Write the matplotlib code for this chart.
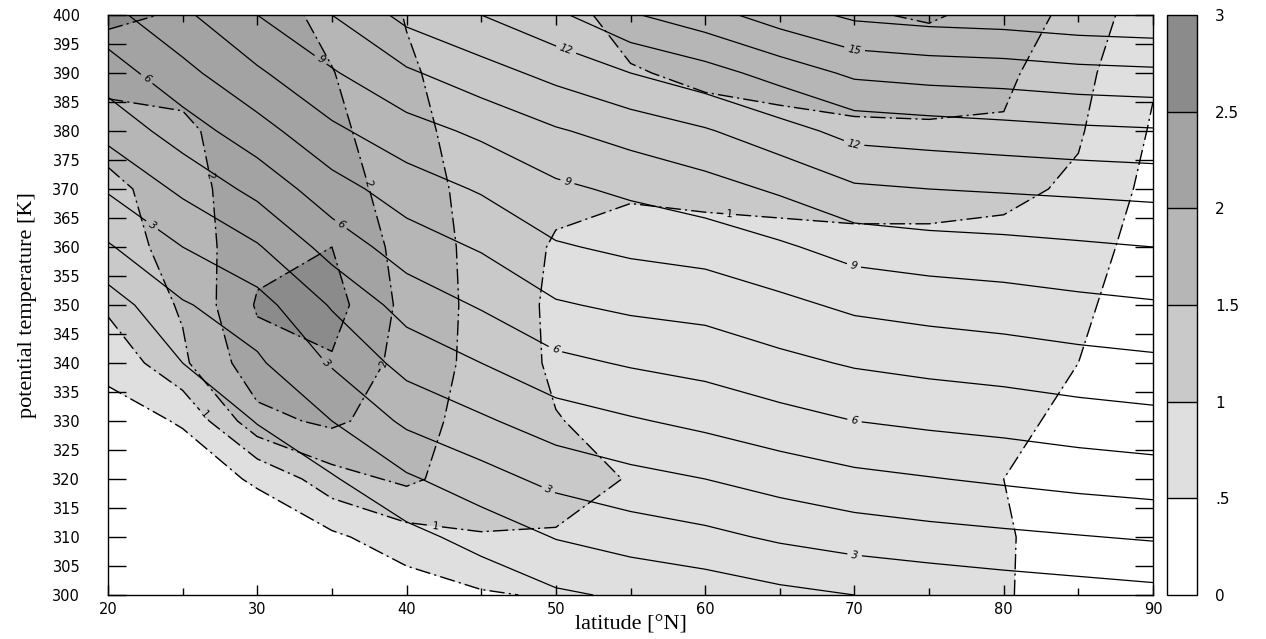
import numpy as np
import matplotlib
matplotlib.use("Agg")
import matplotlib.pyplot as plt
from matplotlib.ticker import MultipleLocator

# grid
lat = [20, 25, 30, 35, 40, 45, 50, 55, 60, 65, 70, 75, 80, 85, 90]
theta = [300, 310, 320, 330, 340, 350, 360, 370, 380, 390, 400]

# shaded field, one list per latitude, theta 300 -> 400
shade_by_lat = [
    [0.10, 0.20, 0.30, 0.35, 0.60, 1.10, 1.25, 1.35, 1.75, 2.20, 2.60],
    [0.10, 0.20, 0.30, 0.53, 1.42, 1.55, 1.70, 1.80, 1.92, 2.15, 2.45],
    [0.10, 0.25, 0.55, 1.85, 2.30, 2.55, 2.35, 2.30, 2.25, 2.25, 2.25],
    [0.15, 0.40, 1.30, 2.10, 2.45, 2.70, 2.50, 2.30, 2.15, 2.02, 1.85],
    [0.20, 0.80, 1.60, 1.70, 1.80, 1.85, 1.80, 1.70, 1.60, 1.55, 1.48],
    [0.45, 0.98, 1.20, 1.30, 1.35, 1.35, 1.35, 1.35, 1.35, 1.30, 1.30],
    [0.55, 0.97, 1.15, 1.02, 0.92, 0.90, 0.95, 1.12, 1.25, 1.35, 1.40],
    [0.60, 0.85, 0.98, 0.85, 0.80, 0.80, 0.85, 1.05, 1.30, 1.48, 1.60],
    [0.65, 0.75, 0.80, 0.80, 0.80, 0.80, 0.85, 1.10, 1.40, 1.55, 1.70],
    [0.70, 0.75, 0.80, 0.80, 0.80, 0.80, 0.85, 1.15, 1.42, 1.60, 1.85],
    [0.70, 0.75, 0.80, 0.80, 0.80, 0.85, 0.88, 1.18, 1.45, 1.65, 1.95],
    [0.70, 0.75, 0.80, 0.80, 0.80, 0.85, 0.88, 1.18, 1.45, 1.70, 2.05],
    [0.55, 0.55, 0.50, 0.60, 0.70, 0.75, 0.85, 1.12, 1.45, 1.60, 1.85],
    [0.20, 0.25, 0.30, 0.40, 0.50, 0.60, 0.75, 0.92, 1.05, 1.15, 1.30],
    [0.10, 0.12, 0.15, 0.18, 0.20, 0.20, 0.25, 0.35, 0.45, 0.55, 0.70],
]

# solid contour field, same layout
pv_by_lat = [
    [-0.6, -0.5, -0.4, -0.3, 0.0, 0.5, 1.9, 3.1, 4.3, 5.5, 6.7],
    [-0.5, -0.4, -0.3, 0.1, 1.0, 1.9, 3.0, 4.2, 5.5, 6.7, 7.8],
    [-0.4, -0.3, 0.2, 1.05, 1.85, 2.6, 3.9, 5.3, 6.6, 7.85, 9.0],
    [-0.4, 0.1, 0.9, 2.0, 3.1, 4.1, 5.4, 6.6, 7.8, 8.9, 10.0],
    [-0.3, 0.7, 1.85, 3.2, 4.35, 5.4, 6.5, 7.5, 8.6, 9.85, 11.3],
    [0.3, 1.35, 2.6, 3.85, 5.0, 6.1, 7.1, 8.1, 9.2, 10.6, 12.0],
    [0.85, 2.05, 3.3, 4.5, 5.75, 6.9, 7.9, 8.8, 9.9, 11.3, 12.8],
    [1.15, 2.45, 3.7, 4.9, 6.1, 7.2, 8.2, 9.2, 10.4, 12.0, 13.9],
    [1.4, 2.75, 4.0, 5.25, 6.35, 7.35, 8.4, 9.6, 10.9, 12.6, 14.6],
    [1.75, 3.15, 4.4, 5.65, 6.75, 7.75, 8.85, 10.15, 11.6, 13.4, 15.5],
    [2.0, 3.45, 4.75, 6.0, 7.1, 8.2, 9.4, 10.85, 12.35, 14.2, 16.2],
    [2.2, 3.65, 4.95, 6.2, 7.3, 8.4, 9.6, 11.0, 12.5, 14.4, 16.4],
    [2.4, 3.8, 5.15, 6.35, 7.45, 8.55, 9.7, 11.1, 12.65, 14.5, 16.5],
    [2.55, 3.95, 5.35, 6.55, 7.65, 8.75, 9.85, 11.2, 12.8, 14.7, 16.7],
    [2.7, 4.1, 5.5, 6.7, 7.8, 8.9, 10.0, 11.3, 12.9, 14.8, 16.8],
]

shade_levels = [0, 0.5, 1, 1.5, 2, 2.5, 3]
shade_labels = ["0", ".5", "1", "1.5", "2", "2.5", "3"]
shade_colors = ["#ffffff", "#dfdfdf", "#c9c9c9", "#b6b6b6", "#a3a3a3", "#8b8b8b"]
shade_labelled = [1, 2]
pv_levels = list(range(1, 18))
pv_labelled = [3, 6, 9, 12, 15]

S = np.array(shade_by_lat).T
P = np.array(pv_by_lat).T

W, H = 1266, 639
fig = plt.figure(figsize=(W / 100, H / 100), dpi=100)
ax = fig.add_axes([108 / W, 1 - 595 / H, (1153 - 108) / W, 580 / H])

cf = ax.contourf(lat, theta, S, levels=shade_levels, colors=shade_colors)

dashdot = (0, (11, 3, 1.5, 3))
cd_plain = ax.contour(lat, theta, S, levels=[0.5, 1.5, 2.5], colors="k", linewidths=1.0)
cd_lab = ax.contour(lat, theta, S, levels=shade_labelled, colors="k", linewidths=1.0)
cd_plain.set_linestyle(dashdot)
cd_lab.set_linestyle(dashdot)

pv_plain = [v for v in pv_levels if v not in pv_labelled]
cs_plain = ax.contour(lat, theta, P, levels=pv_plain, colors="k", linewidths=0.9,
                      linestyles="solid")
cs_lab = ax.contour(lat, theta, P, levels=pv_labelled, colors="k", linewidths=0.9,
                    linestyles="solid")

# labels on the solid lines
pv_lab = ax.clabel(cs_lab, fmt="%d", fontsize=7.5, inline=True, inline_spacing=4,
                   manual=[(23.3, 365), (34.3, 339), (49.4, 317.6), (70, 306.6),
                           (22.6, 389), (35.9, 365), (49.9, 342), (70, 330),
                           (34, 391.4), (50.9, 372.4), (70, 357),
                           (50.8, 394.8), (70, 378), (70, 394)])
for t in pv_lab:
    t.set_fontstyle("italic")

# labels on the dash-dot lines
sh_lab = ax.clabel(cd_lab, fmt="%g", fontsize=7.5, inline=True, inline_spacing=3,
                   manual=[(61.7, 367.6), (26.4, 331), (41.9, 310.9),
                           (37.1, 370.7), (38.4, 340), (28.2, 373)])

ax.set_xlim(20, 90)
ax.set_ylim(300, 400)
ax.xaxis.set_major_locator(MultipleLocator(10))
ax.xaxis.set_minor_locator(MultipleLocator(5))
ax.yaxis.set_major_locator(MultipleLocator(5))
ax.tick_params(axis="y", which="major", direction="in", length=13, width=1,
               left=True, right=True, labelsize=10.5, pad=20)
ax.tick_params(axis="x", which="major", direction="in", length=7, width=1,
               top=True, bottom=True, labelsize=10.5, pad=5)
ax.tick_params(axis="x", which="minor", direction="in", length=5, width=1,
               top=True, bottom=True)
for sp in ax.spines.values():
    sp.set_linewidth(1)

ax.set_xlabel("latitude [°N]", fontfamily="Liberation Serif", fontsize=16)
ax.set_ylabel("potential temperature [K]", fontfamily="Liberation Serif", fontsize=16)
ax.xaxis.set_label_coords(0.5, -0.036)
ax.yaxis.set_label_coords(-0.068, 0.5)

cax = fig.add_axes([1167 / W, 1 - 595 / H, 30 / W, 580 / H])
cb = fig.colorbar(cf, cax=cax, ticks=shade_levels, drawedges=True)
cb.ax.set_yticklabels(shade_labels)
cb.ax.tick_params(length=0, pad=13, labelsize=11)
cb.outline.set_linewidth(1)
cb.dividers.set_linewidth(1)

fig.savefig("out.png", dpi=100)
